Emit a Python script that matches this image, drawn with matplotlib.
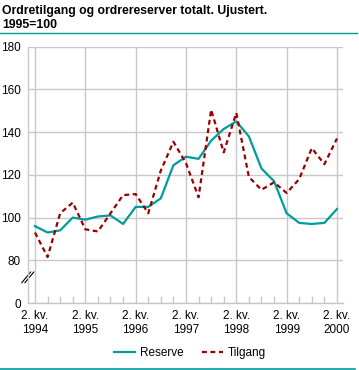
import matplotlib
matplotlib.use('Agg')
import matplotlib.pyplot as plt
from matplotlib.lines import Line2D

plt.rcParams['font.family'] = ['Liberation Sans', 'DejaVu Sans']

# quarterly data, 1994 Q2 .. 2000 Q2 (index 1995=100)
quarters = list(range(25))
reserve = [96, 93, 94, 100, 99, 100.5, 101, 97, 105, 105, 109, 124.5, 128.5, 127.5, 136, 141.5,
           145, 138, 123, 117, 102, 97.5, 97, 97.5, 104]
tilgang = [93, 81.5, 102, 107, 94.5, 93.5, 102, 110.5, 111, 102, 122, 135.5, 125.5, 109.5, 150.5, 130.5,
           149, 119, 113, 116.5, 111.5, 118, 132.5, 125, 137]

year_ticks = [0, 4, 8, 12, 16, 20, 24]
year_labels = ['2. kv.\n1994', '2. kv.\n1995', '2. kv.\n1996', '2. kv.\n1997',
               '2. kv.\n1998', '2. kv.\n1999', '2. kv.\n2000']
y_ticks = [60, 80, 100, 120, 140, 160, 180]
y_labels = ['0', '80', '100', '120', '140', '160', '180']

teal = '#009c9c'
red = '#990000'
grid = '#c8c8c8'

fig = plt.figure(figsize=(3.59, 3.70), dpi=100)
ax = fig.add_axes([28/359, 67/370, 315/359, 256.3/370])

ax.plot(quarters, reserve, color=teal, lw=1.6, label='Reserve')
ax.plot(quarters, tilgang, color=red, lw=1.6, ls=(0, (2.2, 1.6)), label='Tilgang')

ax.set_xlim(-0.556, 24.48)
ax.set_ylim(60, 180)
ax.set_yticks(y_ticks)
ax.set_yticklabels(y_labels)
ax.set_xticks(year_ticks)
ax.set_xticklabels(year_labels, linespacing=1.25)
ax.set_xticks(quarters, minor=True)
ax.tick_params(axis='y', length=0, pad=5, labelsize=8.5)
ax.tick_params(axis='x', which='major', length=0, pad=5, labelsize=8.5)
ax.tick_params(axis='x', which='minor', direction='in', length=5, color=grid, width=1)
ax.grid(True, color=grid, lw=1)
ax.set_axisbelow(True)
for s in ['top', 'right']:
    ax.spines[s].set_visible(False)
for s in ['left', 'bottom']:
    ax.spines[s].set_color(grid)
    ax.spines[s].set_linewidth(1)

# axis break mark
for dx in (0, 0.25):
    ax.plot([-1.05 + dx, -0.35 + dx], [69.5, 74.5], color='black', lw=0.8, clip_on=False)

# title and rules
fig.text(2/359, 1 - 11/370, 'Ordretilgang og ordrereserver totalt. Ujustert.', fontsize=8.8,
         fontweight='bold', va='center', ha='left')
fig.text(2/359, 1 - 25/370, '1995=100', fontsize=8.8, fontweight='bold', va='center', ha='left')
fig.add_artist(Line2D([0, 357/359], [1 - 33/370, 1 - 33/370], color=teal, lw=1))
fig.add_artist(Line2D([0, 355/359], [1 - 369/370, 1 - 369/370], color=teal, lw=1.2))

fig.legend(loc='center', bbox_to_anchor=(190/359, 1 - 352.7/370), ncol=2, frameon=False,
           fontsize=8.5, handlelength=1.8, columnspacing=1.5, handletextpad=0.45)

fig.savefig('out.png', dpi=100)
